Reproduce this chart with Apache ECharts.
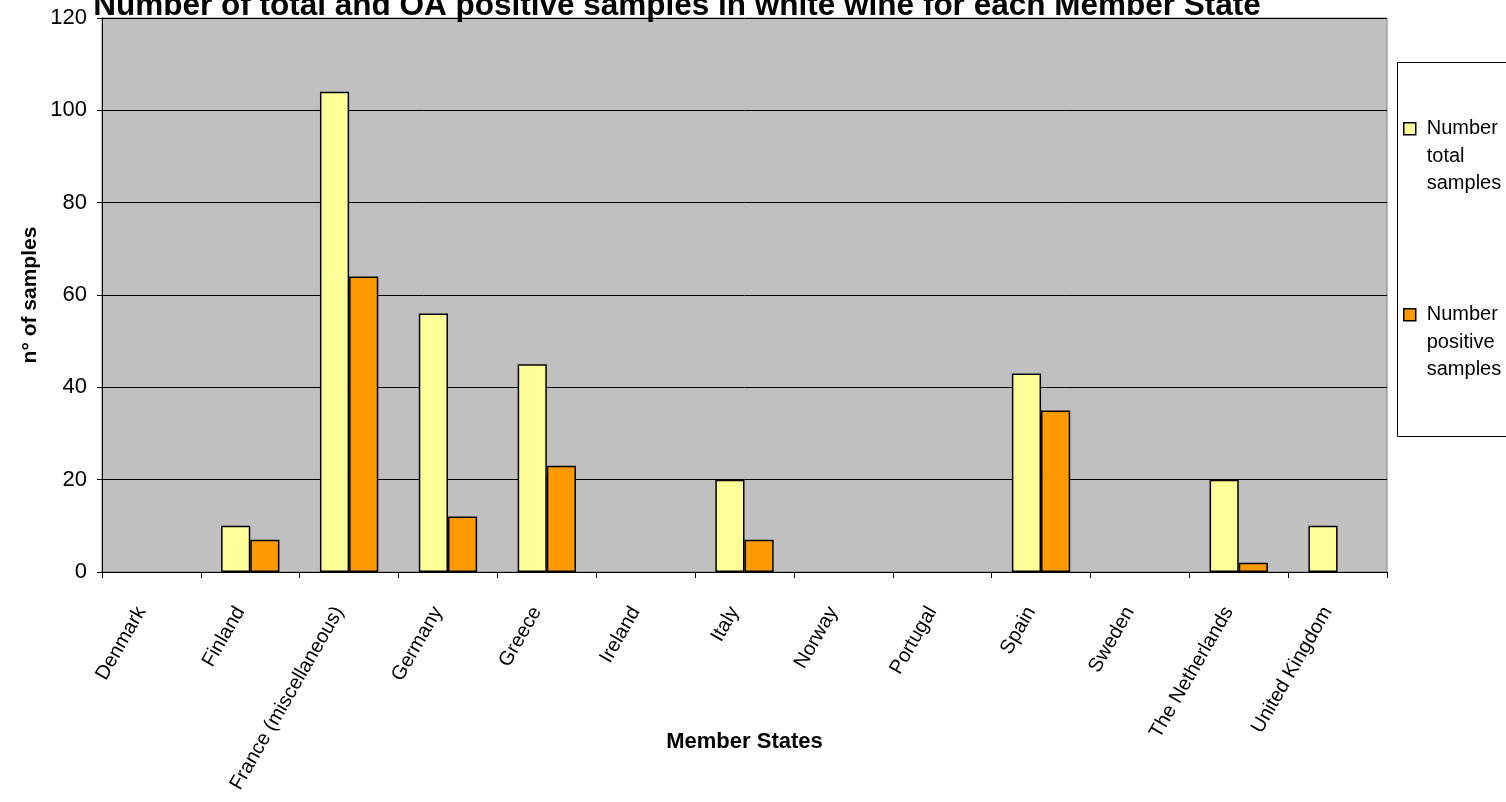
<!DOCTYPE html>
<html><head><meta charset="utf-8">
<script src="https://cdn.jsdelivr.net/npm/echarts@6/dist/echarts.min.js"></script>
<style>html,body{margin:0;padding:0;background:#fff}#c{width:1506px;height:802px}</style>
</head><body><div id="c"></div>
<script>
var categories = ['Denmark','Finland','France (miscellaneous)','Germany','Greece','Ireland','Italy','Norway','Portugal','Spain','Sweden','The Netherlands','United Kingdom'];
var totalSamples = [null,10,104,56,45,null,20,null,null,43,null,20,10];
var positiveSamples = [null,7,64,12,23,null,7,null,null,35,null,2,null];
var seriesNames = ['Number of total samples','Number of positive samples'];
var legendLabels = ['\n\nNumber of\ntotal\nsamples','\n\nNumber of\npositive\nsamples'];
var F = 'Liberation Sans, Arial, sans-serif';
var chart = echarts.init(document.getElementById('c'));
chart.setOption({
  animation:false,
  title:{text:'Number of total and OA positive samples in white wine for each Member State',
    left:672, top:-15, textAlign:'center',
    textStyle:{fontFamily:F,fontSize:31.5,fontWeight:'bold',color:'#000'}},
  graphic:[{type:'rect',left:1397,top:62,shape:{width:200,height:374},style:{fill:'#fff',stroke:'#000',lineWidth:1},z:-1}],
  legend:{orient:'vertical',left:1398,top:55,itemWidth:12,itemHeight:12,itemGap:48.5,icon:'rect',
    data:seriesNames,
    formatter:function(n){return legendLabels[seriesNames.indexOf(n)];},
    itemStyle:{borderColor:'#000',borderWidth:1.5},
    textStyle:{fontFamily:F,fontSize:20,lineHeight:27.5,color:'#000',padding:[0,0,0,6],width:77,overflow:'truncate',ellipsis:''}},
  grid:{left:102,top:18,right:119,bottom:230,outerBoundsMode:'none',containLabel:false,show:true,backgroundColor:'#C0C0C0',borderColor:'#808080',borderWidth:1},
  xAxis:{type:'category',data:categories,
    name:'Member States',nameLocation:'middle',nameGap:159,nameMoveOverlap:false,
    nameTextStyle:{fontFamily:F,fontSize:22,fontWeight:'bold',color:'#000'},
    axisLine:{lineStyle:{color:'#000'}},
    axisTick:{show:true,length:6,lineStyle:{color:'#000'}},
    axisLabel:{rotate:60,interval:0,fontFamily:F,fontSize:20,color:'#000',margin:19,padding:[0,20,0,0]}},
  yAxis:{type:'value',min:0,max:120,interval:20,
    name:'n° of samples',nameLocation:'middle',nameGap:61,nameMoveOverlap:false,
    nameTextStyle:{fontFamily:F,fontSize:21,fontWeight:'bold',color:'#000'},
    axisLine:{show:true,lineStyle:{color:'#000'}},
    axisTick:{show:true,length:5,lineStyle:{color:'#000'}},
    splitLine:{show:true,lineStyle:{color:'#000',width:1}},
    axisLabel:{fontFamily:F,fontSize:22,color:'#000',margin:15}},
  series:[
    {name:seriesNames[0],type:'bar',data:totalSamples,barGap:'0%',barCategoryGap:'41%',
      itemStyle:{color:'#FFFF99',borderColor:'#000',borderWidth:1.5}},
    {name:seriesNames[1],type:'bar',data:positiveSamples,
      itemStyle:{color:'#FF9900',borderColor:'#000',borderWidth:1.5}}
  ]
});
</script></body></html>
